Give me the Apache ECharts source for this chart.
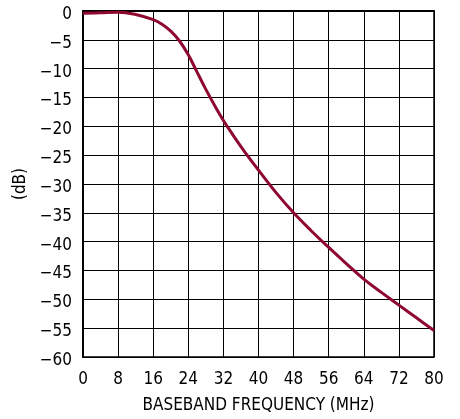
<!DOCTYPE html>
<html>
<head>
<meta charset="utf-8">
<script src="https://cdn.jsdelivr.net/npm/echarts@6/dist/echarts.min.js"></script>
<style>html,body{margin:0;padding:0;background:#fff}#c{width:460px;height:419px}</style>
</head>
<body>
<div id="c"></div>
<script>
const freqMHz = [0, 4, 8, 12, 16, 18, 20, 22, 24, 26, 28, 30, 32, 34, 36, 38, 40, 44, 48, 52, 56, 60, 64, 68, 72, 76, 80];
const gainDb = [-0.4, -0.3, -0.2, -0.6, -1.5, -2.3, -3.5, -5.2, -7.6, -10.6, -13.6, -16.4, -19.0, -21.3, -23.5, -25.6, -27.6, -31.5, -35.0, -38.1, -41.0, -43.8, -46.5, -48.8, -51.0, -53.2, -55.4];
const xTicks = [0, 8, 16, 24, 32, 40, 48, 56, 64, 72, 80];
const yTicks = [0, -5, -10, -15, -20, -25, -30, -35, -40, -45, -50, -55, -60];
const xTitle = 'BASEBAND FREQUENCY (MHz)';
const yTitle = '(dB)';

const font = '"DejaVu Sans Condensed", "Liberation Sans", sans-serif';
const chart = echarts.init(document.getElementById('c'), null, {renderer: 'canvas'});
chart.setOption({
  animation: false,
  grid: {left: 83, right: 26, top: 11, bottom: 57, show: true, borderColor: '#000', borderWidth: 1.5},
  xAxis: {
    type: 'value', min: xTicks[0], max: xTicks[xTicks.length - 1], interval: 8,
    name: xTitle, nameLocation: 'middle', nameGap: 40,
    nameTextStyle: {fontFamily: font, fontSize: 17, color: '#000'},
    axisLine: {show: true, lineStyle: {color: '#000', width: 2}},
    axisTick: {show: false},
    axisLabel: {fontFamily: font, fontSize: 17, color: '#000', margin: 14},
    splitLine: {show: true, lineStyle: {color: '#000', width: 1}}
  },
  yAxis: {
    type: 'value', min: yTicks[yTicks.length - 1], max: yTicks[0], interval: 5,
    name: yTitle, nameLocation: 'middle', nameGap: 51, nameRotate: 90,
    nameTextStyle: {fontFamily: font, fontSize: 17, color: '#000'},
    axisLine: {show: true, lineStyle: {color: '#000', width: 2}},
    axisTick: {show: false},
    axisLabel: {fontFamily: font, fontSize: 17, color: '#000', margin: 11,
      formatter: v => '{a|' + (v < 0 ? '\u2212' + Math.abs(v) : String(v)) + '}',
      rich: {a: {fontFamily: font, fontSize: 17, color: '#000', padding: [7, 0, 0, 0]}}},
    splitLine: {show: true, lineStyle: {color: '#000', width: 1}}
  },
  series: [{
    type: 'line', data: freqMHz.map((f, i) => [f, gainDb[i]]),
    smooth: 0.4, showSymbol: false,
    lineStyle: {color: '#8e0830', width: 3}
  }]
});
</script>
</body>
</html>
